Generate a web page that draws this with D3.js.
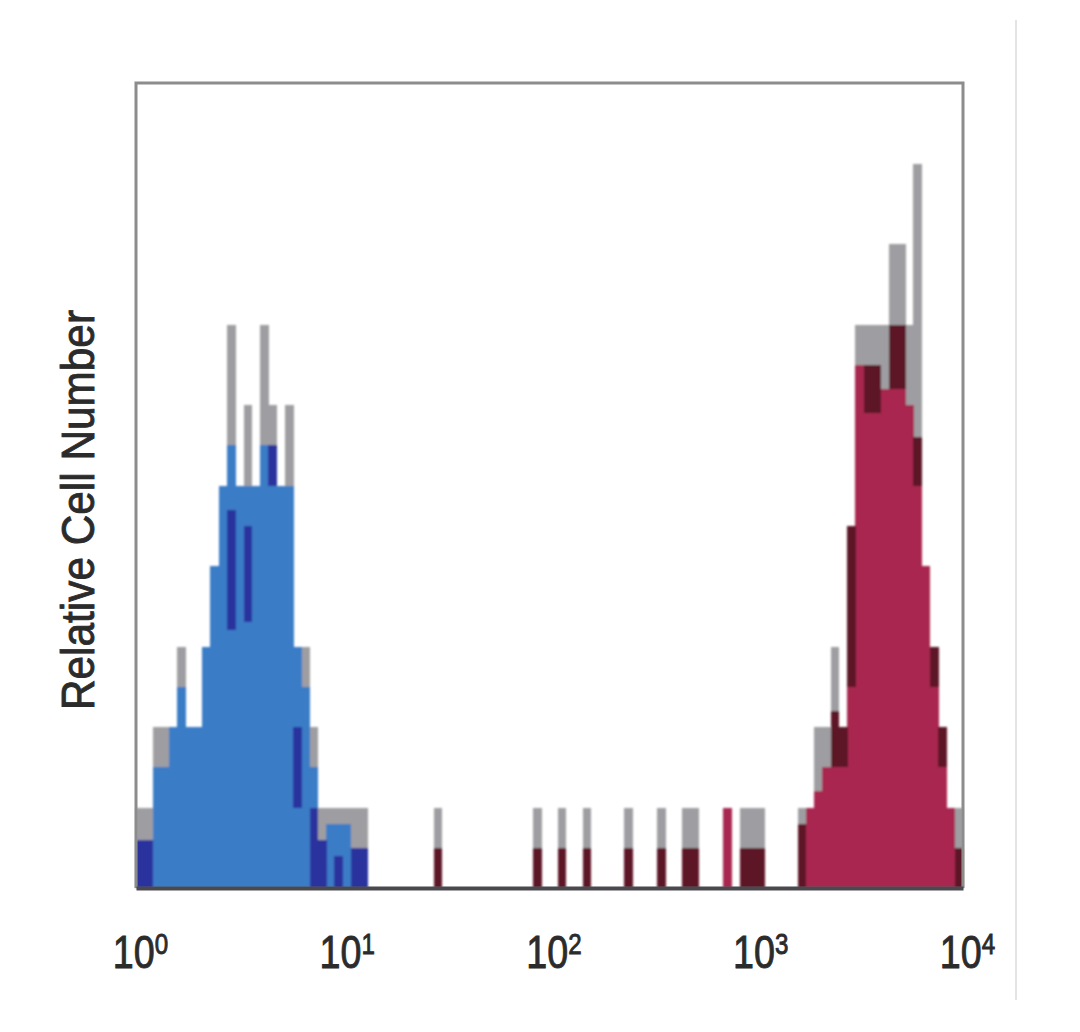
<!DOCTYPE html>
<html>
<head>
<meta charset="utf-8">
<script src="https://cdn.jsdelivr.net/npm/d3@7"></script>
<style>
  body { margin: 0; background: #fff; }
  svg { display: block; }
</style>
</head>
<body>
<div class="chart"></div>
<script>
// histogram bins: 25 per decade on a 10^0 .. 10^4 log axis
const binsPerDecade = 25;
const tickValues = [1, 10, 100, 1000, 10000];
const yLabel = "Relative Cell Number";

// blue population (bins 0..27)
const blueFirstBin = 0;
const blueOuter = [1, 1, 2, 2, 2, 3, 2, 2, 3, 4, 5, 7, 5, 6, 5, 7, 6, 5, 6, 3, 3, 2, 1, 1, 1, 1, 1, 1];
const blueFill  = [0, 0.6, 1.5, 1.5, 2, 2.5, 2, 2, 3, 4, 5, 5.5, 5, 5, 5, 5.5, 5, 5, 5, 3, 2.5, 1.5, 0, 0.8, 0.8, 0.8, 0, 0];
const blueDark  = [[0, 0, 0.6], [1, 0, 0.6], [11, 3.2, 4.7], [13, 3.3, 4.5], [16, 5, 5.5],
                   [19, 1, 2], [21, 0, 1], [22, 0, 0.6], [24, 0, 0.4], [26, 0, 0.5], [27, 0, 0.5]];

// red population (bins 80..99)
const redFirstBin = 80;
const redOuter = [1, 1, 2, 2, 3, 2, 4, 7, 7, 7, 7, 8, 8, 7, 9, 4, 3, 2, 1, 1];
const redFill  = [0.5, 1, 1.2, 1.5, 2, 2, 4, 6.5, 6, 6, 6.2, 7, 7, 6, 5.5, 4, 3, 2, 1, 0.3];
const redDark  = [[80, 0, 0.8], [84, 1.5, 2.2], [85, 1.5, 2], [86, 2.5, 4.5], [88, 5.9, 6.5], [89, 5.9, 6.5],
                  [91, 6.2, 7], [92, 6.2, 7], [94, 5, 5.6], [96, 2.5, 3], [97, 1.5, 2], [99, 0, 0.5]];

// isolated events between the two peaks
const gapBins  = [36, 48, 51, 54, 59, 63, 66, 67, 71, 73, 74, 75];
const gapOuter = [1, 1, 1, 1, 1, 1, 1, 1, 1, 1, 1, 1];
const gapFill  = [0, 0, 0, 0, 0, 0, 0, 0, 1, 0, 0, 0];
const gapDark  = [0.5, 0.5, 0.5, 0.5, 0.5, 0.5, 0.5, 0.5, 0, 0.5, 0.5, 0.5];

function drawChart() {
    const w = 1080;
    const h = 1032;
    const plot = { left: 136, right: 963, top: 83, bottom: 888 };

    const xScale = d3.scaleLog()
        .domain([1, 10000])
        .range([plot.left, plot.right]);

    const yScale = d3.scaleLinear()
        .domain([0, 10])
        .range([plot.bottom, plot.top]);

    const svg = d3.select('.chart')
        .append('svg')
        .attr('width', w)
        .attr('height', h);

    // the source picture is soft, so blur the bars a little
    svg.append('defs')
        .append('filter')
        .attr('id', 'soft')
        .attr('x', '-5%').attr('y', '-5%')
        .attr('width', '110%').attr('height', '110%')
        .append('feGaussianBlur')
        .attr('stdDeviation', 1.1);

    const bars = svg.append('g').attr('filter', 'url(#soft)');

    // build bar lists from the arrays
    const toBars = (first, arr) => arr.map((v, i) => ({ bin: first + i, lo: 0, hi: v }));
    const outer = toBars(blueFirstBin, blueOuter)
        .concat(toBars(redFirstBin, redOuter))
        .concat(gapBins.map((b, i) => ({ bin: b, lo: 0, hi: gapOuter[i] })));
    const fillBlue = toBars(blueFirstBin, blueFill);
    const fillRed = toBars(redFirstBin, redFill)
        .concat(gapBins.map((b, i) => ({ bin: b, lo: 0, hi: gapFill[i] })));
    const darkBlue = blueDark.map(d => ({ bin: d[0], lo: d[1], hi: d[2] }));
    const darkRed = redDark.map(d => ({ bin: d[0], lo: d[1], hi: d[2] }))
        .concat(gapBins.map((b, i) => ({ bin: b, lo: 0, hi: gapDark[i] })));

    const binX0 = b => xScale(Math.pow(10, b / binsPerDecade));
    const binX1 = b => xScale(Math.pow(10, (b + 1) / binsPerDecade));

    function drawBars(data, color) {
        bars.append('g')
            .selectAll('rect')
            .data(data.filter(d => d.hi > d.lo))
            .enter()
            .append('rect')
            .attr('x', d => binX0(d.bin))
            .attr('width', d => binX1(d.bin) - binX0(d.bin) + 0.4)
            .attr('y', d => yScale(d.hi))
            .attr('height', d => yScale(d.lo) - yScale(d.hi))
            .attr('fill', color)
            .attr('shape-rendering', 'crispEdges');
    }

    drawBars(outer, '#9e9ea2');
    drawBars(fillBlue, '#3b7cc6');
    drawBars(fillRed, '#a8264f');
    drawBars(darkBlue, '#2c309e');
    drawBars(darkRed, '#5c1527');

    // frame
    svg.append('path')
        .attr('d', `M${plot.left},${plot.bottom} V${plot.top} H${plot.right} V${plot.bottom}`)
        .attr('fill', 'none')
        .attr('stroke', '#8c8c8c')
        .attr('stroke-width', 3);

    const xAxis = d3.axisBottom(xScale)
        .tickValues(tickValues)
        .tickSize(0)
        .tickPadding(0);

    const gx = svg.append('g')
        .attr('transform', 'translate(0,' + plot.bottom + ')')
        .call(xAxis);

    gx.select('.domain')
        .attr('stroke', '#4a4a4e')
        .attr('stroke-width', 4);

    // labels 10^n in a condensed face
    gx.selectAll('.tick text')
        .attr('y', 80)
        .attr('dy', 0)
        .attr('transform', 'translate(4,0) scale(0.82,1)')
        .attr('fill', '#2b2b2b')
        .attr('stroke', '#2b2b2b')
        .attr('stroke-width', 0.9)
        .attr('font-family', '"Liberation Sans", Arial, sans-serif')
        .attr('font-size', 46)
        .attr('text-anchor', 'middle')
        .each(function (d) {
            const t = d3.select(this);
            t.text(null);
            t.append('tspan').text('10');
            t.append('tspan')
                .attr('dy', '-0.46em')
                .attr('font-size', '0.64em')
                .text(Math.round(Math.log10(d)));
        });

    svg.append('text')
        .attr('transform', 'rotate(-90)')
        .attr('x', -510)
        .attr('y', 94)
        .attr('text-anchor', 'middle')
        .attr('font-family', '"Liberation Sans", Arial, sans-serif')
        .attr('font-size', 46)
        .attr('fill', '#2b2b2b')
        .attr('stroke', '#2b2b2b')
        .attr('stroke-width', 0.9)
        .attr('textLength', 400)
        .attr('lengthAdjust', 'spacingAndGlyphs')
        .text(yLabel);

    // faint border line at the right edge of the figure
    svg.append('line')
        .attr('x1', 1016).attr('x2', 1016)
        .attr('y1', 20).attr('y2', 1000)
        .attr('stroke', '#e4e4e4')
        .attr('stroke-width', 2);
}

drawChart();
</script>
</body>
</html>
